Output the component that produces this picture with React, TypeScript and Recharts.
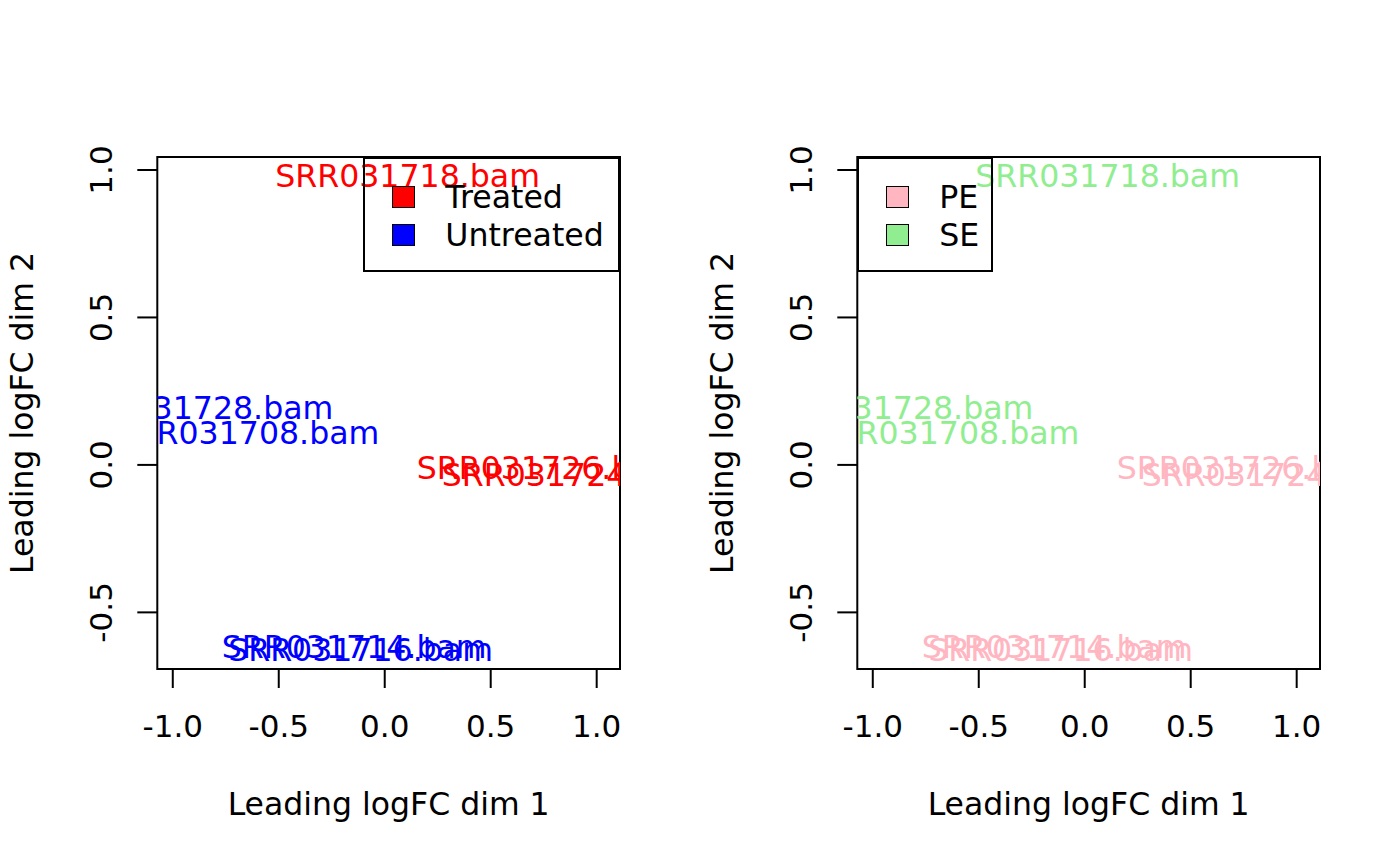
import { ScatterChart, Scatter, XAxis, YAxis, ReferenceArea } from 'recharts'

// MDS coordinates (label centres)
const sampleNames = [
  'SRR031714.bam',
  'SRR031716.bam',
  'SRR031724.bam',
  'SRR031726.bam',
  'SRR031708.bam',
  'SRR031718.bam',
  'SRR031728.bam',
]
const dim1 = [-0.144, -0.114, 0.894, 0.776, -0.65, 0.108, -0.867]
const dim2 = [-0.62, -0.629, -0.037, -0.013, 0.106, 0.975, 0.19]
const treatment = ['Untreated', 'Untreated', 'Treated', 'Treated', 'Untreated', 'Treated', 'Untreated']
const libType = ['PE', 'PE', 'PE', 'PE', 'SE', 'SE', 'SE']

const treatmentGroups = ['Treated', 'Untreated']
const treatmentColors = ['#ff0000', '#0000ff']
const libGroups = ['PE', 'SE']
const libColors = ['#ffb6c1', '#90ee90']

const xTicks = [-1, -0.5, 0, 0.5, 1]
const yTicks = [-0.5, 0, 0.5, 1]
const xDomain = [-1.073, 1.11]
const yDomain = [-0.692, 1.044]

const FONT = '"DejaVu Sans", sans-serif'
const FS = 31
const LABEL_FS = 31.6

const fmt = (v: number) => v.toFixed(1)

const XTick = ({ x, y, payload }: any) => (
  <text x={x} y={y} textAnchor="middle" fontSize={FS} fontFamily={FONT} fill="#000">
    {fmt(payload.value)}
  </text>
)

const YTick = ({ x, y, payload }: any) => (
  <text
    x={x}
    y={y}
    transform={`rotate(-90, ${x}, ${y})`}
    textAnchor="middle"
    fontSize={FS}
    fontFamily={FONT}
    fill="#000"
  >
    {fmt(payload.value)}
  </text>
)

const XTitle = ({ viewBox }: any) => (
  <text
    x={viewBox.x + viewBox.width / 2}
    y={viewBox.y + 146}
    textAnchor="middle"
    fontSize={31.5}
    fontFamily={FONT}
    fill="#000"
  >
    Leading logFC dim 1
  </text>
)

const YTitle = ({ viewBox }: any) => {
  const x = viewBox.x + 33
  const y = viewBox.y + viewBox.height / 2
  return (
    <text
      x={x}
      y={y}
      transform={`rotate(-90, ${x}, ${y})`}
      textAnchor="middle"
      fontSize={31.5}
      fontFamily={FONT}
      fill="#000"
    >
      Leading logFC dim 2
    </text>
  )
}

function MdsPanel({
  groupOf,
  groups,
  colors,
  legendLeft,
  legendWidth,
}: {
  groupOf: string[]
  groups: string[]
  colors: string[]
  legendLeft: number
  legendWidth: number
}) {
  const data = sampleNames.map((name, i) => ({
    name,
    x: dim1[i],
    y: dim2[i],
    color: colors[groups.indexOf(groupOf[i])],
  }))

  const LabelShape = (props: any) => (
    <text
      x={props.cx}
      y={props.cy}
      dy="0.32em"
      textAnchor="middle"
      fontSize={LABEL_FS}
      fontFamily={FONT}
      fill={props.payload.color}
    >
      {props.payload.name}
    </text>
  )

  return (
    <div style={{ position: 'relative', width: 700, height: 865 }}>
      <ScatterChart width={700} height={865} margin={{ top: 157, right: 80, bottom: 0, left: 0 }}>
        <XAxis
          type="number"
          dataKey="x"
          domain={xDomain}
          ticks={xTicks}
          allowDataOverflow
          axisLine={false}
          tickLine={{ stroke: '#000', strokeWidth: 2 }}
          tickSize={19}
          tickMargin={49}
          tick={<XTick />}
          height={196}
          label={XTitle}
        />
        <YAxis
          type="number"
          dataKey="y"
          domain={yDomain}
          ticks={yTicks}
          allowDataOverflow
          axisLine={false}
          tickLine={{ stroke: '#000', strokeWidth: 2 }}
          tickSize={20}
          tickMargin={25.6}
          tick={<YTick />}
          width={157.3}
          label={YTitle}
        />
        <ReferenceArea
          x1={xDomain[0]}
          x2={xDomain[1]}
          y1={yDomain[0]}
          y2={yDomain[1]}
          ifOverflow="visible"
          fill="none"
          stroke="#000"
          strokeWidth={2}
          fillOpacity={0}
          strokeOpacity={1}
        />
        <Scatter data={data} shape={LabelShape} isAnimationActive={false} />
      </ScatterChart>
      <div
        style={{
          position: 'absolute',
          left: legendLeft,
          top: 157,
          width: legendWidth,
          height: 115.3,
          boxSizing: 'border-box',
          border: '2px solid #000',
          fontFamily: FONT,
          fontSize: 31.6,
          color: '#000',
        }}
      >
        {groups.map((g, i) => (
          <div
            key={g}
            style={{
              position: 'absolute',
              left: 27,
              top: 24.5 + i * 38.5,
              height: 26,
              display: 'flex',
              alignItems: 'center',
              whiteSpace: 'nowrap',
            }}
          >
            <div
              style={{
                width: 21,
                height: 20,
                background: colors[i],
                border: '1.5px solid #000',
                marginRight: 30,
              }}
            />
            <span style={{ lineHeight: '26px' }}>{g}</span>
          </div>
        ))}
      </div>
    </div>
  )
}

export default function App() {
  return (
    <div style={{ position: 'absolute', left: 0, top: 0, width: 1400, height: 865, background: '#fff', display: 'flex' }}>
      <MdsPanel groupOf={treatment} groups={treatmentGroups} colors={treatmentColors} legendLeft={363.3} legendWidth={256.7} />
      <MdsPanel groupOf={libType} groups={libGroups} colors={libColors} legendLeft={157.3} legendWidth={135.7} />
    </div>
  )
}
